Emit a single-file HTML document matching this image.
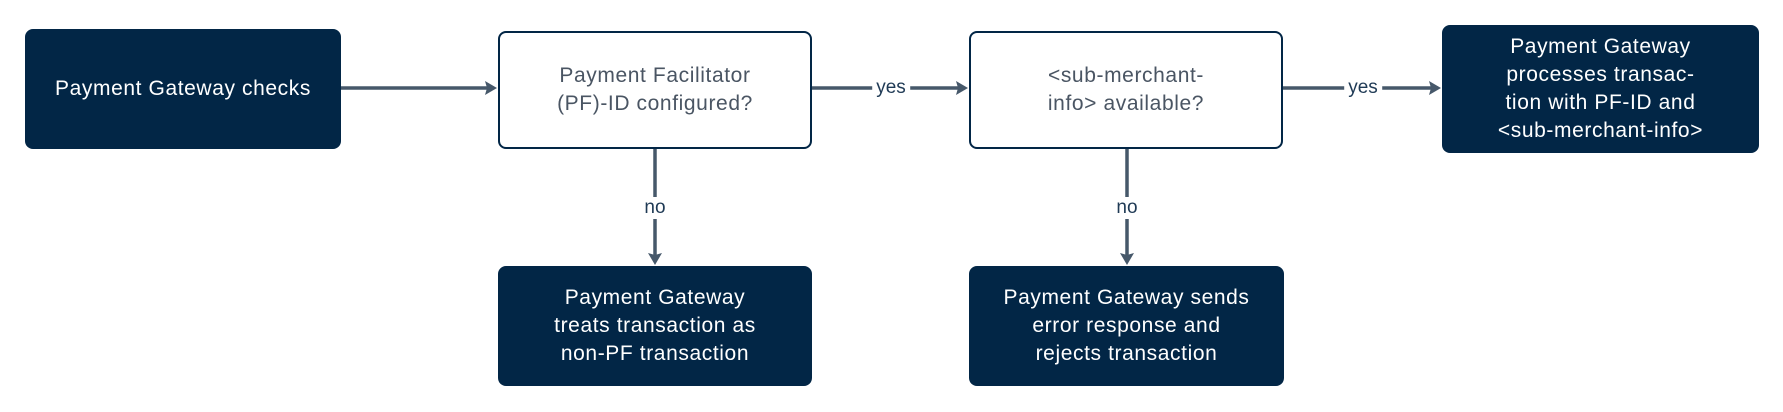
<!DOCTYPE html>
<html><head><style>
body{margin:0;width:1783px;height:412px;background:#fff;position:relative;font-family:"Liberation Sans",sans-serif;overflow:hidden}
.b{position:absolute;box-sizing:border-box;border-radius:8px;display:flex;align-items:center;justify-content:center;text-align:center;font-size:21px;line-height:28px;letter-spacing:0.6px}
.d{background:#022646;color:#fff}
.w{background:#fff;border:2.5px solid #022646;color:#4a5563}
.l{position:absolute;font-size:19px;color:#1f3a55;background:#fff;padding:0 4px;transform:translate(-50%,-50%)}
</style></head><body>
<svg width="1783" height="412" style="position:absolute;left:0;top:0">
<g stroke="#46586a" stroke-width="3.5" fill="none">
<line x1="341" y1="88" x2="491" y2="88"/>
<line x1="812" y1="88" x2="962" y2="88"/>
<line x1="1283" y1="88" x2="1435" y2="88"/>
<line x1="655" y1="149" x2="655" y2="258"/>
<line x1="1127" y1="149" x2="1127" y2="258"/>
</g>
<g fill="#46586a">
<polygon points="497,88 485,81 487,88 485,95"/>
<polygon points="968,88 956,81 958,88 956,95"/>
<polygon points="1441,88 1429,81 1431,88 1429,95"/>
<polygon points="655,265 648,253 655,255 662,253"/>
<polygon points="1127,265 1120,253 1127,255 1134,253"/>
</g>
</svg>
<div class="b d" style="left:25px;top:29px;width:316px;height:120px">Payment Gateway checks</div>
<div class="b w" style="left:498px;top:31px;width:314px;height:118px">Payment Facilitator<br>(PF)-ID configured?</div>
<div class="b w" style="left:969px;top:31px;width:314px;height:118px">&lt;sub-merchant-<br>info&gt; available?</div>
<div class="b d" style="left:1442px;top:25px;width:317px;height:128px">Payment Gateway<br>processes transac-<br>tion with PF-ID and<br>&lt;sub-merchant-info&gt;</div>
<div class="b d" style="left:498px;top:266px;width:314px;height:120px">Payment Gateway<br>treats transaction as<br>non-PF transaction</div>
<div class="b d" style="left:969px;top:266px;width:315px;height:120px">Payment Gateway sends<br>error response and<br>rejects transaction</div>
<div class="l" style="left:891px;top:88px">yes</div>
<div class="l" style="left:1363px;top:88px">yes</div>
<div class="l" style="left:655px;top:208px">no</div>
<div class="l" style="left:1127px;top:208px">no</div>
</body></html>
